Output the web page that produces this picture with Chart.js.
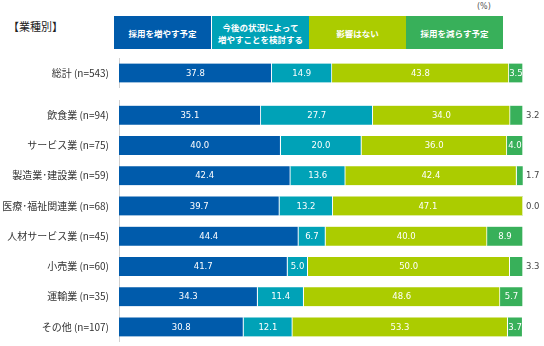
<!DOCTYPE html>
<html lang="ja">
<head>
<meta charset="UTF-8" />
<title>業種別</title>
<script src="https://cdn.jsdelivr.net/npm/chart.js"></script>
<style>
  body {
    margin: 0;
    width: 544px;
    height: 346px;
    background: #fff;
    position: relative;
    overflow: hidden;
    font-family: "DejaVu Sans", "Noto Sans CJK JP", sans-serif;
  }
  #title {
    position: absolute; left: 8px; top: 18px;
    font-size: 11px; color: #222;
    font-family: "Noto Sans CJK JP", sans-serif;
  }
  #unit {
    position: absolute; left: 477px; top: 2px;
    font-size: 8px; color: #555;
  }
  .head {
    position: absolute; top: 16px; height: 33px; width: 97px;
    color: #fff; font-size: 8.5px; line-height: 12px; font-weight: bold;
    display: flex; align-items: center; justify-content: center;
    text-align: center; white-space: pre-line;
    font-family: "Noto Sans CJK JP", sans-serif;
  }
  canvas { position: absolute; left: 0; }
</style>
</head>
<body>
  <div id="title">【業種別】</div>
  <div id="unit">(%)</div>
  <canvas id="totalChart" width="544" height="30" style="top:58px"></canvas>
  <canvas id="industryChart" width="544" height="242" style="top:100px"></canvas>

<script>
  // series (legend order)
  const seriesNames = ['採用を増やす予定', '今後の状況によって\n増やすことを検討する', '影響はない', '採用を減らす予定'];
  const seriesColors = ['#005bab', '#00a2b7', '#abcc00', '#38b05a'];

  // total row
  const totalLabel = ['総計 (n=543)'];
  const totalIncrease = [37.8];
  const totalConsider = [14.9];
  const totalNoEffect = [43.8];
  const totalDecrease = [3.5];

  // by industry
  const industries = ['飲食業 (n=94)', 'サービス業 (n=75)', '製造業･建設業 (n=59)', '医療･福祉関連業 (n=68)',
                      '人材サービス業 (n=45)', '小売業 (n=60)', '運輸業 (n=35)', 'その他 (n=107)'];
  const increase = [35.1, 40.0, 42.4, 39.7, 44.4, 41.7, 34.3, 30.8];
  const consider = [27.7, 20.0, 13.6, 13.2, 6.7, 5.0, 11.4, 12.1];
  const noEffect = [34.0, 36.0, 42.4, 47.1, 40.0, 50.0, 48.6, 53.3];
  const decrease = [3.2, 4.0, 1.7, 0.0, 8.9, 3.3, 5.7, 3.7];

  // header boxes
  const headLeft = [114, 212, 309, 406];
  seriesNames.forEach((name, i) => {
    const d = document.createElement('div');
    d.className = 'head';
    d.style.left = headLeft[i] + 'px';
    d.style.background = seriesColors[i];
    d.textContent = name;
    document.body.appendChild(d);
  });

  // values inside the bars, small ones on the right
  const valueLabels = {
    id: 'valueLabels',
    afterDatasetsDraw(chart) {
      const ctx = chart.ctx;
      ctx.save();
      ctx.font = '8.5px "DejaVu Sans"';
      ctx.textBaseline = 'middle';
      chart.data.datasets.forEach((ds, i) => {
        chart.getDatasetMeta(i).data.forEach((bar, j) => {
          const v = ds.data[j];
          const text = v.toFixed(1);
          if (v >= 3.5) {
            ctx.fillStyle = '#fff';
            ctx.textAlign = 'center';
            ctx.fillText(text, (bar.x + bar.base) / 2, bar.y + 0.5);
          } else {
            ctx.fillStyle = '#444';
            ctx.textAlign = 'left';
            ctx.fillText(text, chart.chartArea.right + 3, bar.y + 0.5);
          }
        });
      });
      ctx.restore();
    }
  };

  function makeChart(id, labels, rows) {
    const datasets = rows.map((data, i) => ({
      label: seriesNames[i],
      data: data,
      backgroundColor: seriesColors[i],
      borderColor: '#fff',
      borderWidth: { top: 0, bottom: 0, left: 0, right: 1 },
      borderSkipped: false,
      barThickness: 19
    }));
    return new Chart(document.getElementById(id), {
      type: 'bar',
      data: { labels: labels, datasets: datasets },
      plugins: [valueLabels],
      options: {
        indexAxis: 'y',
        responsive: false,
        animation: false,
        layout: { autoPadding: false, padding: { left: 0, right: 21, top: 0, bottom: 0 } },
        plugins: { legend: { display: false }, tooltip: { enabled: false } },
        scales: {
          x: { stacked: true, min: 0, max: 100, display: false },
          y: {
            stacked: true,
            grid: { display: false, drawTicks: false },
            border: { display: true, color: '#d0d0d0', width: 1 },
            ticks: {
              padding: 10,
              color: '#333',
              font: { family: '"Noto Sans CJK JP"', size: 10 }
            },
            afterFit(scale) {
              scale.width = 119;
              scale.paddingTop = 0;
              scale.paddingBottom = 0;
            }
          }
        }
      }
    });
  }

  makeChart('totalChart', totalLabel, [totalIncrease, totalConsider, totalNoEffect, totalDecrease]);
  makeChart('industryChart', industries, [increase, consider, noEffect, decrease]);
</script>
</body>
</html>
